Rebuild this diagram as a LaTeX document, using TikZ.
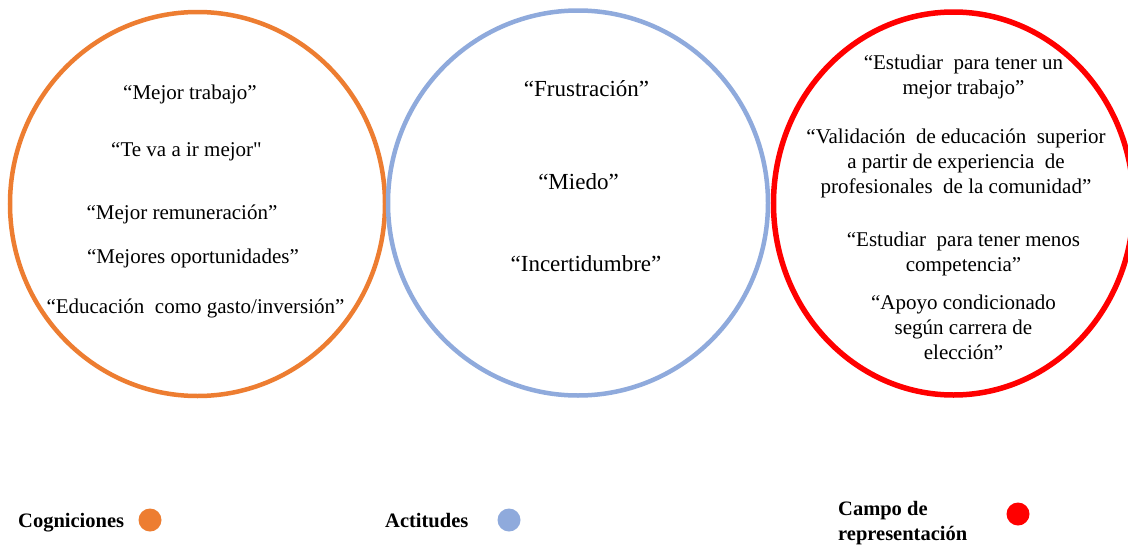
\documentclass[tikz,border=0pt]{standalone}
\usepackage{fontspec}
\setmainfont{Liberation Serif}
% same family without TeX ligatures, for a plain straight quote
\newfontfamily\plainserif{Liberation Serif}
\definecolor{cogorange}{HTML}{ED7D31}
\definecolor{actblue}{HTML}{8FAADC}
\definecolor{camred}{HTML}{FF0000}
\begin{document}
\begin{tikzpicture}[x=1pt,y=-1pt,
  ring/.style={line width=4.5pt},
  quote/.style={anchor=base,inner sep=0pt,font=\fontsize{21}{25}\selectfont},
  bigquote/.style={anchor=base,inner sep=0pt,font=\fontsize{23}{27}\selectfont},
  block/.style={anchor=base,inner sep=0pt,align=center,font=\fontsize{21}{25}\selectfont},
  legend/.style={anchor=base west,inner sep=0pt,align=left,font=\fontsize{20.5}{25}\selectfont\bfseries},
  dot/.style={circle,inner sep=0pt,minimum size=23pt}
]
\useasboundingbox (0,0) rectangle (1128,544);
\clip (0,0) rectangle (1128,544);
\fill[white] (0,0) rectangle (1128,544);

% the three category rings
\draw[ring,cogorange] (197.5,204) ellipse [x radius=187.5, y radius=192];
\draw[ring,actblue] (578,203) ellipse [x radius=190, y radius=192.5];
\draw[ring,camred,line width=5.5pt] (953.5,203.5) ellipse [x radius=180, y radius=191.5];

% cogniciones
\node[quote] (c1) at (190,99) {“Mejor trabajo”};
\node[quote] (c2) at (186.5,156) {“Te va a ir mejor{\plainserif"}};
\node[quote] (c3) at (182,219) {“Mejor remuneración”};
\node[quote] (c4) at (193,263) {“Mejores oportunidades”};
\node[quote] (c5) at (195.5,313) {“Educación \ como gasto/inversión”};

% actitudes
\node[bigquote] (a1) at (586.5,96) {“Frustración”};
\node[bigquote] (a2) at (578.5,189) {“Miedo”};
\node[bigquote] (a3) at (586,271) {“Incertidumbre”};

% campo de representacion (positioned by the baseline of the last line)
\node[block] (r1) at (963.5,94) {“Estudiar \ para tener un\\mejor trabajo”};
\node[block] (r2) at (956,193) {“Validación \ de educación \ superior\\a partir de experiencia \ de\\profesionales \ de la comunidad”};
\node[block] (r3) at (963.5,271) {“Estudiar \ para tener menos\\competencia”};
\node[block] (r4) at (963.5,359) {“Apoyo condicionado\\según carrera de\\elección”};

% legend
\node[legend] (l1) at (18,527) {Cogniciones};
\node[dot,fill=cogorange] (d1) at (150,520) {};
\node[legend] (l2) at (385,527) {Actitudes};
\node[dot,fill=actblue] (d2) at (509,520) {};
\node[legend] (l3) at (838,540) {Campo de\\representación};
\node[dot,fill=camred] (d3) at (1018,514) {};
\end{tikzpicture}
\end{document}
